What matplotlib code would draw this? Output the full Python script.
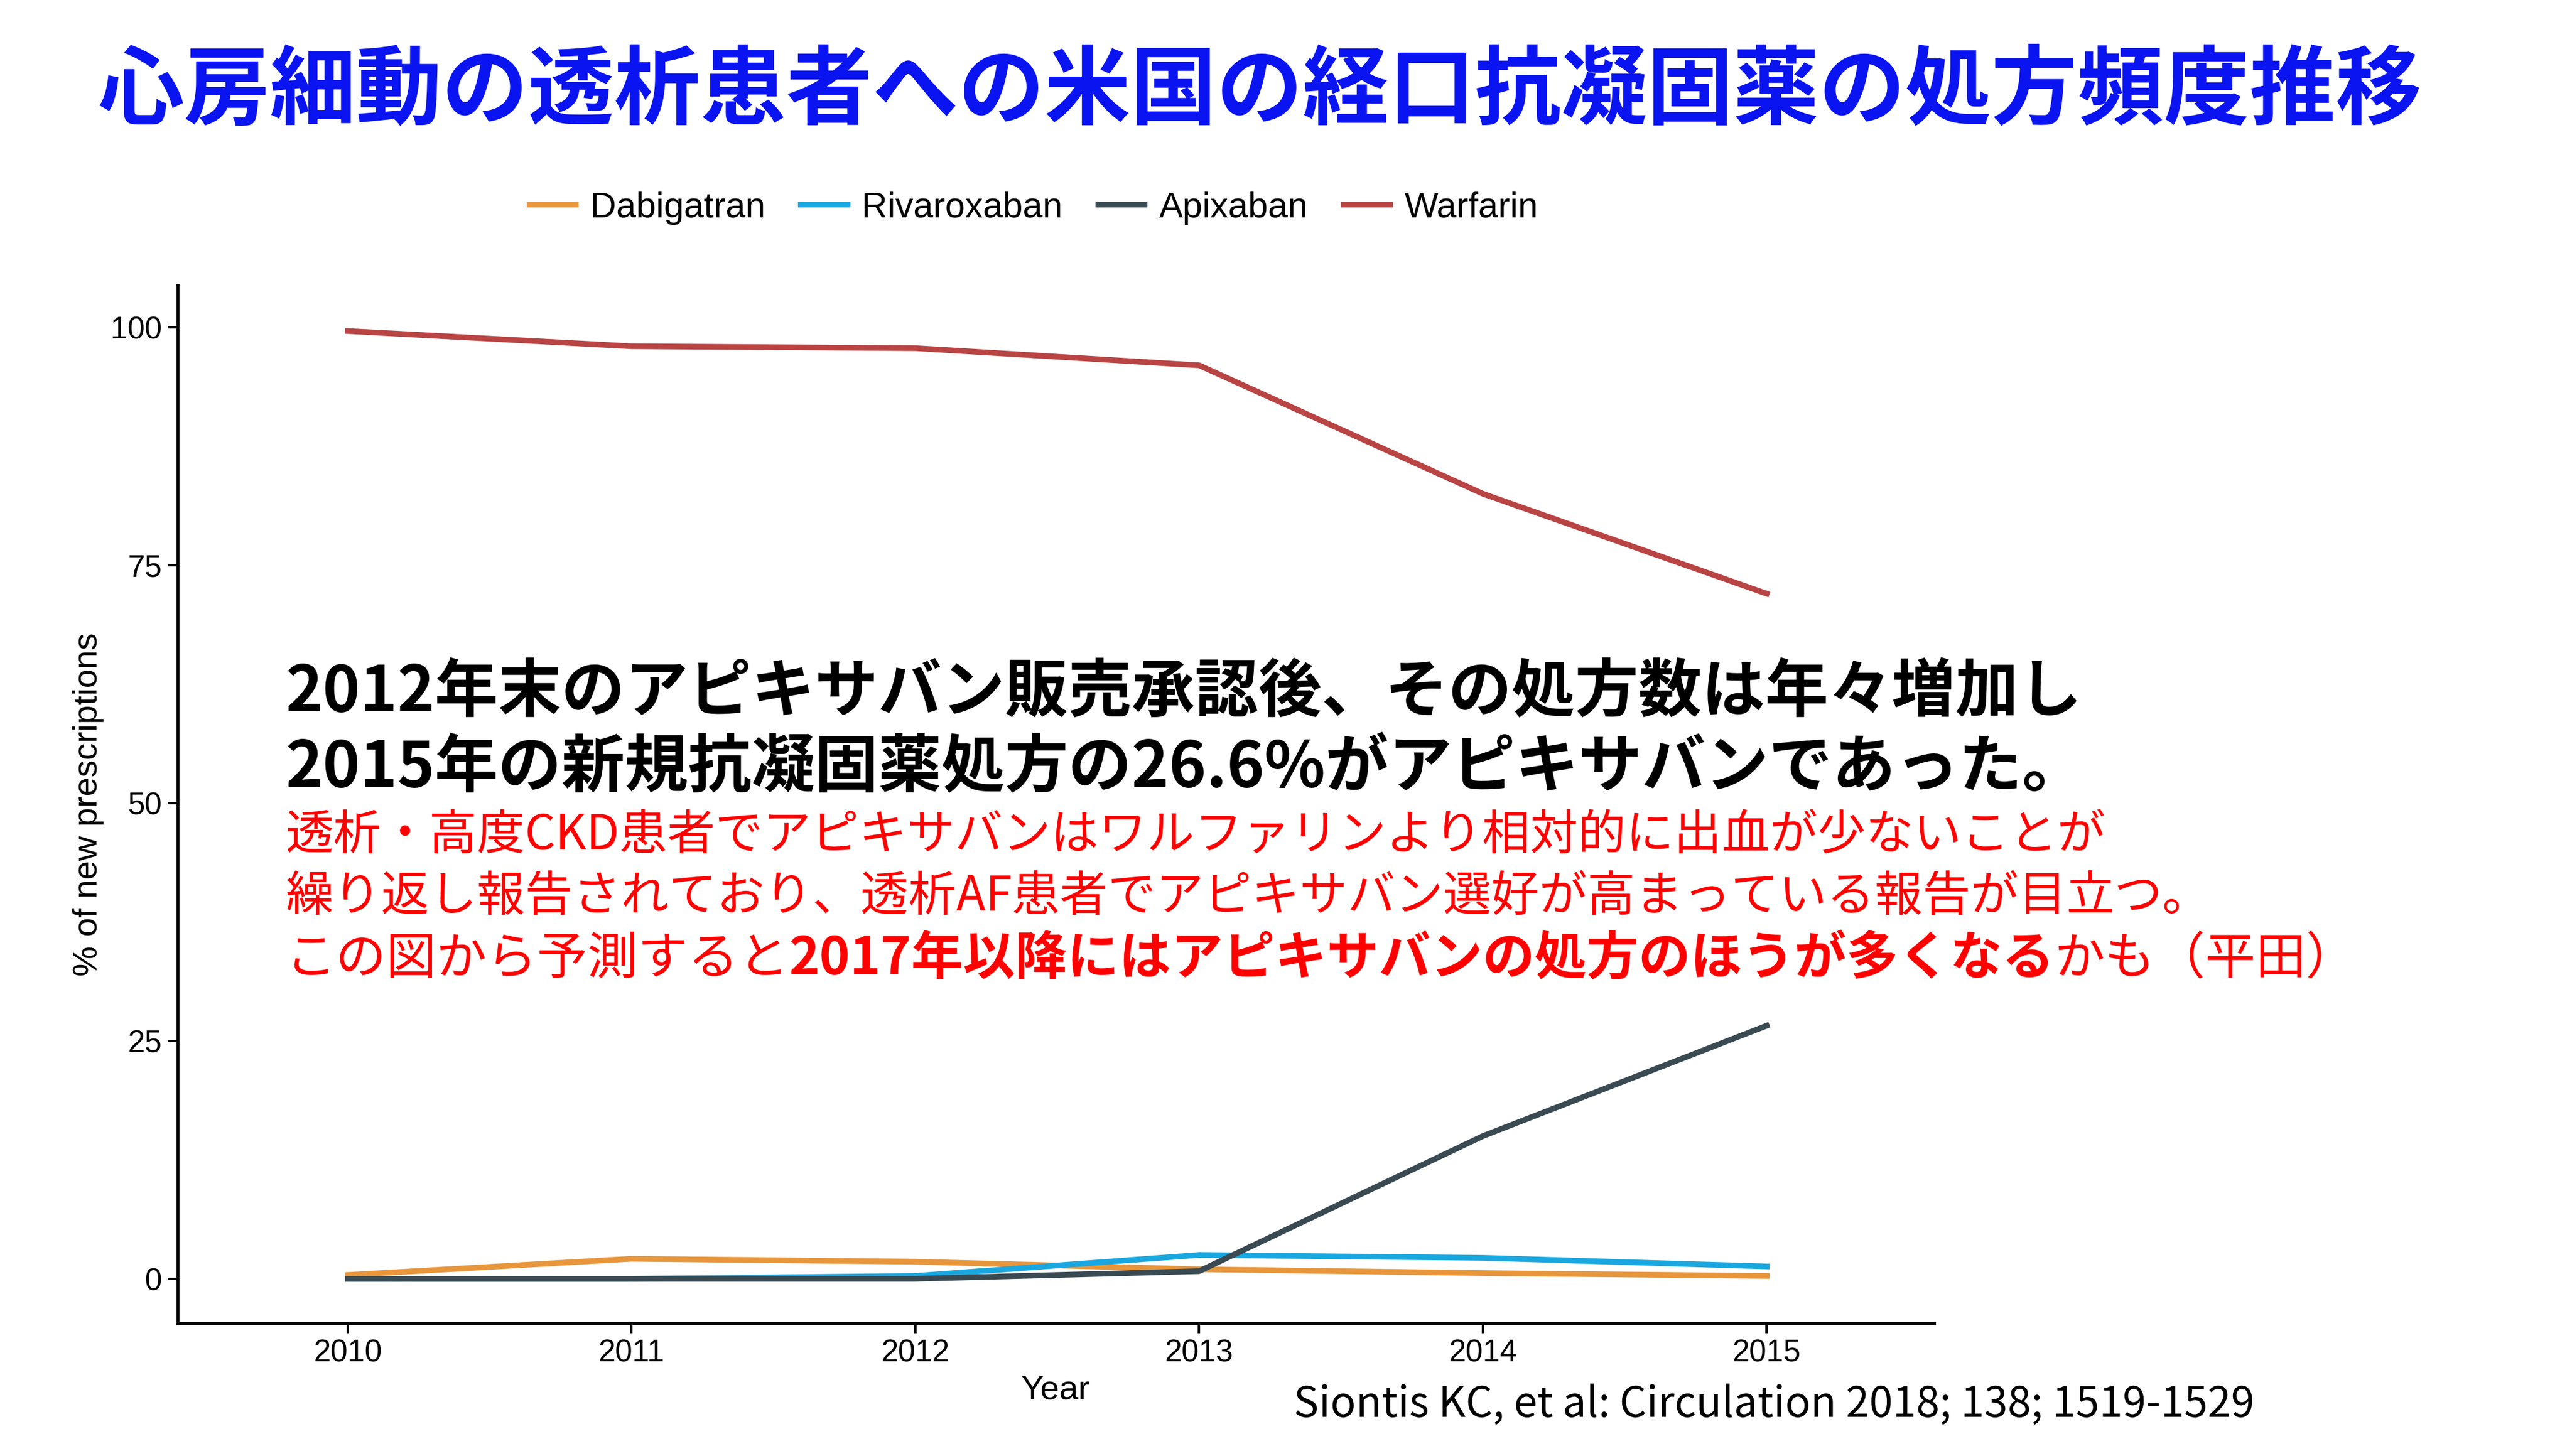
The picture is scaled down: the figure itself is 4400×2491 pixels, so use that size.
import matplotlib
matplotlib.use("Agg")
import matplotlib.pyplot as plt

plt.rcParams['font.family'] = ['Noto Sans CJK JP', 'DejaVu Sans']

years = [2010, 2011, 2012, 2013, 2014, 2015]
dabigatran = [0.4, 2.1, 1.8, 1.0, 0.6, 0.3]
rivaroxaban = [0.0, 0.0, 0.3, 2.5, 2.2, 1.3]
apixaban = [0.0, 0.0, 0.0, 0.8, 15.0, 26.6]
warfarin = [99.6, 98.0, 97.8, 96.0, 82.5, 72.0]

fig = plt.figure(figsize=(22, 12.455), dpi=200)
ax = fig.add_axes([0.069, 0.091, 0.683, 0.713])

ax.plot(years, dabigatran, color='#E8963C', lw=3.5, label='Dabigatran')
ax.plot(years, rivaroxaban, color='#1AA7E0', lw=3.5, label='Rivaroxaban')
ax.plot(years, apixaban, color='#3A4A52', lw=3.5, label='Apixaban')
ax.plot(years, warfarin, color='#B94444', lw=3.5, label='Warfarin')

ax.set_xlim(2009.40, 2015.59)
ax.set_ylim(-4.7, 104.4)
ax.set_xticks(years)
ax.set_yticks([0, 25, 50, 75, 100])
ax.tick_params(labelsize=19, length=6, width=1.5)
for lab in ax.get_xticklabels() + ax.get_yticklabels():
    lab.set_family('Liberation Sans')
for s in ['top', 'right']:
    ax.spines[s].set_visible(False)
for s in ['left', 'bottom']:
    ax.spines[s].set_linewidth(1.8)
ax.set_xlabel('Year', fontsize=21, family='Liberation Sans')
ax.set_ylabel('% of new prescriptions', fontsize=21, family='Liberation Sans')

fig.legend(loc='center', bbox_to_anchor=(0.402, 0.857), ncol=4, frameon=False,
           handlelength=1.3, columnspacing=1.0, handletextpad=0.4,
           prop={'family': 'Liberation Sans', 'size': 22})

fig.text(0.49, 0.937, '心房細動の透析患者への米国の経口抗凝固薬の処方頻度推移',
         ha='center', va='center', fontsize=53, color='#0A14F0', fontweight='bold')

fig.text(0.111, 0.524, '2012年末のアピキサバン販売承認後、その処方数は年々増加し',
         fontsize=39, fontweight='bold', va='center')
fig.text(0.111, 0.472, '2015年の新規抗凝固薬処方の26.6%がアピキサバンであった。',
         fontsize=39, fontweight='bold', va='center')
fig.text(0.111, 0.426, '透析・高度CKD患者でアピキサバンはワルファリンより相対的に出血が少ないことが',
         fontsize=29.5, color='red', va='center')
fig.text(0.111, 0.384, '繰り返し報告されており、透析AF患者でアピキサバン選好が高まっている報告が目立つ。',
         fontsize=29.5, color='red', va='center')

parts = [('この図から予測すると', 'normal'),
         ('2017年以降にはアピキサバンの処方のほうが多くなる', 'bold'),
         ('かも（平田）', 'normal')]
fig.canvas.draw()
r = fig.canvas.get_renderer()
x = 0.111
for txt, w in parts:
    t = fig.text(x, 0.341, txt, fontsize=32 if w == 'bold' else 31, color='red',
                 fontweight=w, va='center')
    x += t.get_window_extent(r).width / fig.bbox.width

fig.text(0.503, 0.027, 'Siontis KC, et al: Circulation 2018; 138; 1519-1529', fontsize=26)

fig.savefig('out.png')
